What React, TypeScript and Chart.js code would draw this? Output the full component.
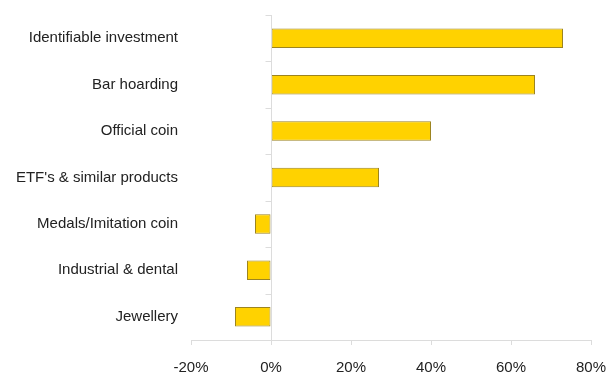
import React, { useEffect, useRef } from "react";
import { Chart, registerables } from "chart.js";

Chart.register(...registerables);

const categories = [
  "Identifiable investment",
  "Bar hoarding",
  "Official coin",
  "ETF's & similar products",
  "Medals/Imitation coin",
  "Industrial & dental",
  "Jewellery",
];
const values = [73, 66, 40, 27, -4, -6, -9];
const xTicks = [-20, 0, 20, 40, 60, 80];

const AXIS_COLOR = "#dcdcdc";

const zeroLinePlugin = {
  id: "zeroLine",
  afterDatasetsDraw(chart: any) {
    const { ctx, chartArea, scales } = chart;
    const x0 = Math.round(scales.x.getPixelForValue(0)) + 0.5;
    ctx.save();
    ctx.strokeStyle = AXIS_COLOR;
    ctx.lineWidth = 1;
    ctx.beginPath();
    ctx.moveTo(x0, chartArea.top);
    ctx.lineTo(x0, chartArea.bottom);
    const n = categories.length;
    for (let i = 0; i <= n; i++) {
      const y = Math.round(chartArea.top + ((chartArea.bottom - chartArea.top) * i) / n) + 0.5;
      ctx.moveTo(x0 - 6, y);
      ctx.lineTo(x0, y);
    }
    ctx.stroke();
    ctx.restore();
  },
};

export default function App() {
  const ref = useRef<HTMLCanvasElement>(null);
  useEffect(() => {
    if (!ref.current) return;
    const chart = new Chart(ref.current, {
      type: "bar",
      data: {
        labels: categories,
        datasets: [
          {
            data: values,
            backgroundColor: "#FFD200",
            borderColor: "#9C8420",
            borderWidth: 1,
            borderSkipped: false,
            barPercentage: 0.42,
            categoryPercentage: 1,
          },
        ],
      },
      options: {
        indexAxis: "y",
        animation: false,
        responsive: false,
        layout: { padding: { top: 15, right: 15, bottom: 0, left: 0 } },
        plugins: { legend: { display: false }, tooltip: { enabled: false } },
        scales: {
          x: {
            min: -20,
            max: 80,
            afterBuildTicks: (s: any) => {
              s.ticks = xTicks.map((v) => ({ value: v }));
            },
            afterFit: (s: any) => {
              s.height = 32;
              s.paddingLeft = 0;
              s.paddingRight = 0;
            },
            ticks: {
              callback: (v: any) => v + "%",
              color: "#222",
              font: { family: "Liberation Sans, Arial, sans-serif", size: 15 },
              padding: 14,
              maxRotation: 0,
            },
            grid: {
              drawOnChartArea: false,
              drawTicks: true,
              tickLength: 5,
              color: AXIS_COLOR,
            },
            border: { display: true, color: AXIS_COLOR },
          },
          y: {
            afterFit: (s: any) => {
              s.width = 191;
              s.paddingTop = 0;
              s.paddingBottom = 0;
            },
            ticks: {
              color: "#222",
              font: { family: "Liberation Sans, Arial, sans-serif", size: 15 },
              padding: 13,
            },
            grid: { display: false, drawTicks: false },
            border: { display: false },
          },
        },
      },
      plugins: [zeroLinePlugin],
    });
    return () => chart.destroy();
  }, []);
  return (
    <div style={{ position: "absolute", left: 0, top: 0, width: 606, height: 372 }}>
      <canvas ref={ref} width={606} height={372} style={{ display: "block" }} />
    </div>
  );
}
